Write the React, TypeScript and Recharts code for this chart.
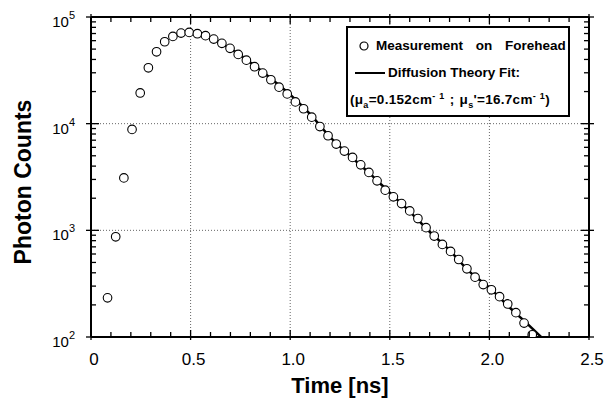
import { ComposedChart, Scatter, Line, XAxis, YAxis, ReferenceLine, Legend } from 'recharts';

// measured photon counts (open circles)
const measTime = [
  0.083, 0.124, 0.165, 0.206, 0.247, 0.288, 0.329, 0.370, 0.411, 0.452,
  0.493, 0.534, 0.575, 0.616, 0.657, 0.698, 0.739, 0.780, 0.821, 0.862,
  0.903, 0.944, 0.985, 1.026, 1.067, 1.108, 1.149, 1.190, 1.231, 1.272,
  1.313, 1.354, 1.395, 1.436, 1.477, 1.518, 1.559, 1.600, 1.641, 1.682,
  1.723, 1.764, 1.805, 1.846, 1.887, 1.928, 1.969, 2.010, 2.051, 2.092,
  2.133, 2.174, 2.215,
];
const measCounts = [
  233, 870, 3100, 8840, 19400, 33400, 47200, 58600, 65800, 70700,
  71700, 69700, 66800, 62100, 56600, 50800, 44600, 39400, 34200, 29800,
  25800, 22000, 19000, 16000, 13800, 11500, 9400, 7700, 6440, 5530,
  4830, 4110, 3490, 2910, 2380, 2060, 1780, 1520, 1290, 1060,
  884, 738, 634, 533, 436, 364, 310, 277, 239, 204,
  169, 135, 105,
];

// diffusion theory fit (solid line)
const fitTime = [0.47, 0.5, 0.55, 0.6, 0.65, 0.7, 0.8, 0.9, 1.0, 1.1, 1.2, 1.3, 1.4, 1.5, 1.6, 1.7, 1.8, 1.9, 2.0, 2.1, 2.2, 2.26];
const fitCounts = [71800, 71500, 69000, 64000, 57500, 50500, 37500, 26800, 18700, 12300, 7500, 5000, 3400, 2250, 1500, 970, 650, 410, 290, 190, 128, 100];

const xTicks = [0, 0.1, 0.2, 0.3, 0.4, 0.5, 0.6, 0.7, 0.8, 0.9, 1.0, 1.1, 1.2, 1.3, 1.4, 1.5, 1.6, 1.7, 1.8, 1.9, 2.0, 2.1, 2.2, 2.3, 2.4, 2.5];
const xMajor = [0, 0.5, 1.0, 1.5, 2.0, 2.5];
const xMajorLabels = ['0', '0.5', '1.0', '1.5', '2.0', '2.5'];
const yMajor = [100, 1000, 10000, 100000];
const yMajorExp = ['2', '3', '4', '5'];
const yMinorMult = [2, 3, 4, 5, 6, 7, 8, 9];
const yTicks = [
  ...yMajor,
  ...yMajor.slice(0, 3).flatMap((d) => yMinorMult.map((m) => d * m)),
].sort((a, b) => a - b);
const xGrid = [0.5, 1.0, 1.5, 2.0];
const yGrid = [1000, 10000];

const measData = measTime.map((t, i) => ({ t, counts: measCounts[i] }));
const fitData = fitTime.map((t, i) => ({ t, counts: fitCounts[i] }));

const FONT = '"Liberation Sans", Arial, Helvetica, sans-serif';

const xMajorIndex = (v: number) => xMajor.findIndex((m) => Math.abs(m - v) < 1e-6);
const yMajorIndex = (v: number) => yMajor.findIndex((m) => Math.abs(m - v) < 1e-6);

const BottomTick = ({ x, y, payload }: any) => {
  const i = xMajorIndex(payload.value);
  const major = i >= 0;
  return (
    <g>
      <line x1={x} x2={x} y1={major ? y + 3 : y} y2={y - (major ? 7 : 5)} stroke="#000" strokeWidth={1.3} />
      {major && (
        <text x={x + 3} y={y + 28} textAnchor="middle" fontSize={17} fontFamily={FONT} fill="#000">
          {xMajorLabels[i]}
        </text>
      )}
    </g>
  );
};

const TopTick = ({ x, y, payload }: any) => {
  const major = xMajorIndex(payload.value) >= 0;
  return <line x1={x} x2={x} y1={major ? y - 3 : y} y2={y + (major ? 7 : 5)} stroke="#000" strokeWidth={1.3} />;
};

const LeftTick = ({ x, y, payload }: any) => {
  const i = yMajorIndex(payload.value);
  const major = i >= 0;
  return (
    <g>
      <line x1={major ? x - 5 : x} x2={x + (major ? 8 : 5)} y1={y} y2={y} stroke="#000" strokeWidth={1.3} />
      {major && (
        <text x={x - 16} y={y + 10} textAnchor="end" fontSize={15} fontFamily={FONT} fill="#000">
          <tspan>10</tspan>
          <tspan dy={-8} fontSize={11}>{yMajorExp[i]}</tspan>
        </text>
      )}
    </g>
  );
};

const RightTick = ({ x, y, payload }: any) => {
  const major = yMajorIndex(payload.value) >= 0;
  return <line x1={x - (major ? 8 : 5)} x2={major ? x + 5 : x} y1={y} y2={y} stroke="#000" strokeWidth={1.3} />;
};

const Circle = ({ cx, cy }: any) => (
  <circle cx={cx} cy={cy} r={4.3} fill="#fff" stroke="#000" strokeWidth={1.1} />
);

const subStyle = { fontSize: 9, lineHeight: 0 };

const LegendBox = () => (
  <div
    style={{
      boxSizing: 'border-box',
      width: 224,
      height: 91,
      border: '2px solid #000',
      background: '#fff',
      fontFamily: FONT,
      fontWeight: 'bold',
      fontSize: 13.5,
      color: '#000',
      paddingTop: 4,
      whiteSpace: 'nowrap',
    }}
  >
    <div style={{ display: 'flex', alignItems: 'center', height: 27, paddingLeft: 9 }}>
      <svg width={14} height={14}>
        <circle cx={7} cy={7} r={4} fill="#fff" stroke="#000" strokeWidth={1.2} />
      </svg>
      <span style={{ marginLeft: 5, wordSpacing: 9 }}>Measurement on Forehead</span>
    </div>
    <div style={{ display: 'flex', alignItems: 'center', height: 27, paddingLeft: 7 }}>
      <svg width={32} height={6}>
        <line x1={0} x2={30} y1={3} y2={3} stroke="#000" strokeWidth={2} />
      </svg>
      <span style={{ marginLeft: 1 }}>Diffusion Theory Fit:</span>
    </div>
    <div style={{ display: 'flex', alignItems: 'center', height: 27, paddingLeft: 2, lineHeight: '14px' }}>
      <span style={{ letterSpacing: 0.3, wordSpacing: 1 }}>
        (μ<sub style={subStyle}>a</sub>=0.152cm<sup style={subStyle}>- 1</sup> ; μ
        <sub style={subStyle}>s</sub>'=16.7cm<sup style={subStyle}>- 1</sup>)
      </span>
    </div>
  </div>
);

const axisLine = { stroke: '#000', strokeWidth: 2 };

export default function App() {
  return (
    <div style={{ position: 'absolute', left: 0, top: 0, width: 611, height: 398, background: '#fff' }}>
      <ComposedChart width={611} height={398} margin={{ top: 0, right: 0, bottom: 0, left: 0 }} style={{ fontFamily: FONT }}>
        <XAxis
          dataKey="t"
          type="number"
          domain={[0, 2.5]}
          ticks={xTicks}
          interval={0}
          height={61}
          tickSize={0}
          tickMargin={0}
          tickLine={false}
          axisLine={axisLine}
          tick={<BottomTick />}
          allowDataOverflow
          label={{ value: 'Time [ns]', position: 'insideBottom', offset: 5, style: { fontSize: 22, fontWeight: 'bold', fill: '#000', fontFamily: FONT } }}
        />
        <XAxis
          xAxisId="top"
          orientation="top"
          dataKey="t"
          type="number"
          domain={[0, 2.5]}
          ticks={xTicks}
          interval={0}
          height={17}
          tickSize={0}
          tickMargin={0}
          tickLine={false}
          axisLine={axisLine}
          tick={<TopTick />}
          allowDataOverflow
        />
        <YAxis
          dataKey="counts"
          type="number"
          scale="log"
          domain={[100, 100000]}
          ticks={yTicks}
          interval={0}
          width={91}
          tickSize={0}
          tickMargin={0}
          tickLine={false}
          axisLine={axisLine}
          tick={<LeftTick />}
          allowDataOverflow
          label={{ value: 'Photon Counts', angle: -90, position: 'center', dx: -23, dy: 5, style: { fontSize: 23, fontWeight: 'bold', fill: '#000', fontFamily: FONT } }}
        />
        <YAxis
          yAxisId="right"
          orientation="right"
          dataKey="counts"
          type="number"
          scale="log"
          domain={[100, 100000]}
          ticks={yTicks}
          interval={0}
          width={22}
          tickSize={0}
          tickMargin={0}
          tickLine={false}
          axisLine={axisLine}
          tick={<RightTick />}
          allowDataOverflow
        />
        {xGrid.map((v) => (
          <ReferenceLine key={`gx${v}`} x={v} stroke="#666" strokeDasharray="1 2" strokeWidth={1} />
        ))}
        {yGrid.map((v) => (
          <ReferenceLine key={`gy${v}`} y={v} stroke="#666" strokeDasharray="1 2" strokeWidth={1} />
        ))}
        <Line
          data={fitData}
          xAxisId="top"
          yAxisId="right"
          dataKey="counts"
          type="monotone"
          stroke="#000"
          strokeWidth={2.5}
          dot={false}
          activeDot={false}
          isAnimationActive={false}
        />
        <Scatter data={measData} dataKey="counts" shape={<Circle />} isAnimationActive={false} />
        <Legend
          layout="horizontal"
          verticalAlign="middle"
          align="center"
          wrapperStyle={{ top: 26, left: 346, width: 224, height: 91 }}
          content={<LegendBox />}
        />
      </ComposedChart>
    </div>
  );
}
